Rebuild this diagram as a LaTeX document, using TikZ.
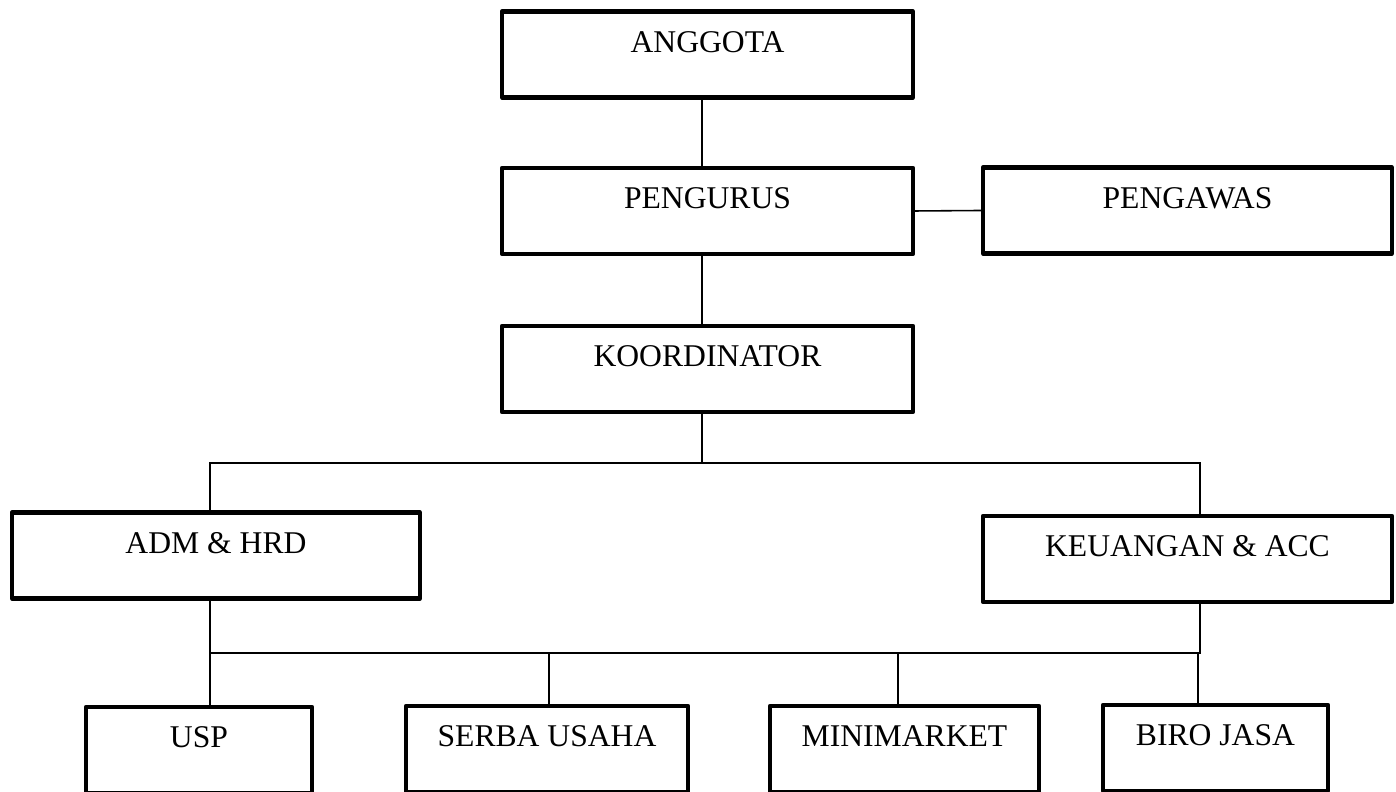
\documentclass[tikz,border=0pt]{standalone}
\usepackage{fontspec}
\setmainfont{Liberation Serif}

\begin{document}

\begin{tikzpicture}[
	box/.style = {draw, line width = 1.2pt, line join = round, inner sep = 0pt,
		minimum height = 0.86cm, text height = 0.41cm, text depth = 0.45cm,
		font = \fontsize{9}{11}\selectfont},
	link/.style = {line width = 0.45pt}
	]

	% Fix the picture size
	
	\useasboundingbox (0, 0) rectangle (13.96, -7.92);
	
	% Top of the chart
	
	\node [box, minimum width = 4.11cm, minimum height = 0.86cm] (anggota) at (7.075, -0.545) {ANGGOTA};
	\node [box, minimum width = 4.11cm] (pengurus) at (7.075, -2.11) {PENGURUS};
	\node [box, minimum width = 4.09cm] (pengawas) at (11.875, -2.105) {PENGAWAS};
	\node [box, minimum width = 4.11cm] (koord) at (7.075, -3.69) {KOORDINATOR};
	
	% Two departments
	
	\node [box, minimum width = 4.08cm] (adm) at (2.16, -5.555) {ADM \& HRD};
	\node [box, minimum width = 4.09cm] (keu) at (11.875, -5.59) {KEUANGAN \& ACC};
	
	% Four units
	
	\node [box, minimum width = 2.26cm] (usp) at (1.99, -7.50) {USP};
	\node [box, minimum width = 2.82cm] (serba) at (5.47, -7.49) {SERBA USAHA};
	\node [box, minimum width = 2.69cm] (mini) at (9.045, -7.49) {MINIMARKET};
	\node [box, minimum width = 2.25cm] (biro) at (12.155, -7.48) {BIRO JASA};
	
	% Lines between the top boxes
	
	\begin{scope}[link]
	
		\draw ([xshift = -0.055cm] anggota.south) -- ([xshift = -0.055cm] pengurus.north);
		\draw (pengurus.east) -- (pengawas.west);
		\draw ([xshift = -0.055cm] pengurus.south) -- ([xshift = -0.055cm] koord.north);
		
	\end{scope}
	
	% Upper branch
	
	\coordinate (fork) at (7.02, -4.63);
	
	\begin{scope}[link]
	
		\draw ([xshift = -0.055cm] koord.south) -- (fork);
		\draw ([xshift = -0.06cm] adm.north) |- (fork) -| ([xshift = 0.125cm] keu.north);
		
	\end{scope}
	
	% Lower branch
	
	\coordinate (rail) at (7.02, -6.53);
	
	\begin{scope}[link]
	
		\draw ([xshift = -0.06cm] adm.south) -- ([xshift = -0.06cm] adm.south |- usp.north);
		\draw ([xshift = -0.06cm] adm.south |- rail) -| ([xshift = 0.125cm] keu.south);
		\draw ([xshift = 0.02cm] serba.north) -- ([xshift = 0.02cm] serba.north |- rail);
		\draw ([xshift = -0.065cm] mini.north) -- ([xshift = -0.065cm] mini.north |- rail);
		\draw ([xshift = -0.175cm] biro.north) -- ([xshift = -0.175cm] biro.north |- rail);
		
	\end{scope}
		
\end{tikzpicture}

\end{document}
